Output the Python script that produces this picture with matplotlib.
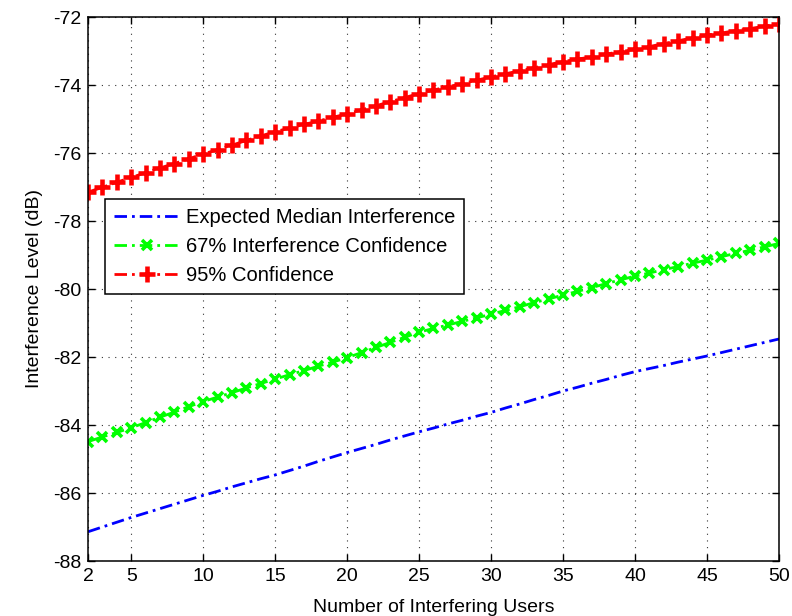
import matplotlib
matplotlib.use("Agg")
import matplotlib.pyplot as plt

plt.rcParams['font.family'] = ['Liberation Sans', 'DejaVu Sans']
plt.rcParams['axes.unicode_minus'] = False

users = list(range(2, 51))

median_interf = [-87.14, -87.00, -86.86, -86.72, -86.59, -86.46, -86.33, -86.20, -86.07,
                 -85.95, -85.82, -85.70, -85.58, -85.47, -85.34, -85.21, -85.07, -84.94,
                 -84.81, -84.69, -84.57, -84.44, -84.32, -84.20, -84.09, -83.97, -83.86,
                 -83.74, -83.63, -83.50, -83.38, -83.25, -83.13, -83.00, -82.89, -82.77,
                 -82.66, -82.54, -82.43, -82.34, -82.25, -82.15, -82.06, -81.97, -81.87,
                 -81.77, -81.67, -81.57, -81.47]

conf67 = [-84.49, -84.35, -84.22, -84.08, -83.93, -83.77, -83.62, -83.46, -83.31,
          -83.18, -83.05, -82.91, -82.78, -82.65, -82.52, -82.40, -82.27, -82.15,
          -82.02, -81.87, -81.72, -81.57, -81.42, -81.27, -81.16, -81.06, -80.95,
          -80.85, -80.74, -80.63, -80.52, -80.40, -80.29, -80.18, -80.07, -79.96,
          -79.84, -79.73, -79.62, -79.53, -79.43, -79.34, -79.24, -79.15, -79.05,
          -78.95, -78.86, -78.76, -78.66]

conf95 = [-77.15, -77.01, -76.86, -76.72, -76.58, -76.44, -76.31, -76.17, -76.03,
          -75.90, -75.77, -75.63, -75.50, -75.37, -75.27, -75.16, -75.06, -74.95,
          -74.85, -74.73, -74.61, -74.49, -74.37, -74.25, -74.15, -74.05, -73.96,
          -73.86, -73.76, -73.67, -73.58, -73.49, -73.40, -73.31, -73.24, -73.17,
          -73.09, -73.02, -72.95, -72.87, -72.78, -72.70, -72.61, -72.53, -72.47,
          -72.40, -72.34, -72.27, -72.21]

labels = ["Expected Median Interference", "67% Interference Confidence", "95% Confidence"]
xticks = [2, 5, 10, 15, 20, 25, 30, 35, 40, 45, 50]
yticks = list(range(-88, -71, 2))

fig = plt.figure(figsize=(7.92, 6.16), dpi=100)
ax = fig.add_axes([88/792, 1 - 561/616, (779 - 88)/792, (561 - 17)/616])

dash = (4.5, 1.8, 1.0, 1.8)
ax.plot(users, median_interf, color='#0000ff', lw=2.0, dashes=dash, label=labels[0])
ax.plot(users, conf67, color='#00ff00', lw=2.0, dashes=dash, marker='x',
        markersize=7, markeredgewidth=2.6, label=labels[1])
ax.plot(users, conf95, color='#ff0000', lw=2.0, dashes=dash, marker='+',
        markersize=11, markeredgewidth=3.3, label=labels[2])

ax.set_xlim(2, 50)
ax.set_ylim(-88, -72)
ax.set_xticks(xticks)
ax.set_yticks(yticks)
ax.tick_params(direction='in', length=5, width=1, top=True, right=True,
               labelsize=14, colors='black', pad=5)
for s in ax.spines.values():
    s.set_linewidth(1.1)
    s.set_color('black')
ax.grid(True, color='#333333', linestyle=(0, (1, 5)), linewidth=0.8)

ax.set_xlabel("Number of Interfering Users", fontsize=14, labelpad=10)
ax.set_ylabel("Interference Level (dB)", fontsize=14, labelpad=7)

leg = ax.legend(loc='upper left', bbox_to_anchor=(17/691, (561 - 199)/544),
                borderaxespad=0, fontsize=14.5, handlelength=3.3, handletextpad=0.25,
                labelspacing=0.5, borderpad=0.45, fancybox=False, framealpha=1,
                edgecolor='black', numpoints=1)
leg.get_frame().set_linewidth(1.1)

fig.savefig("out.png", dpi=100)
